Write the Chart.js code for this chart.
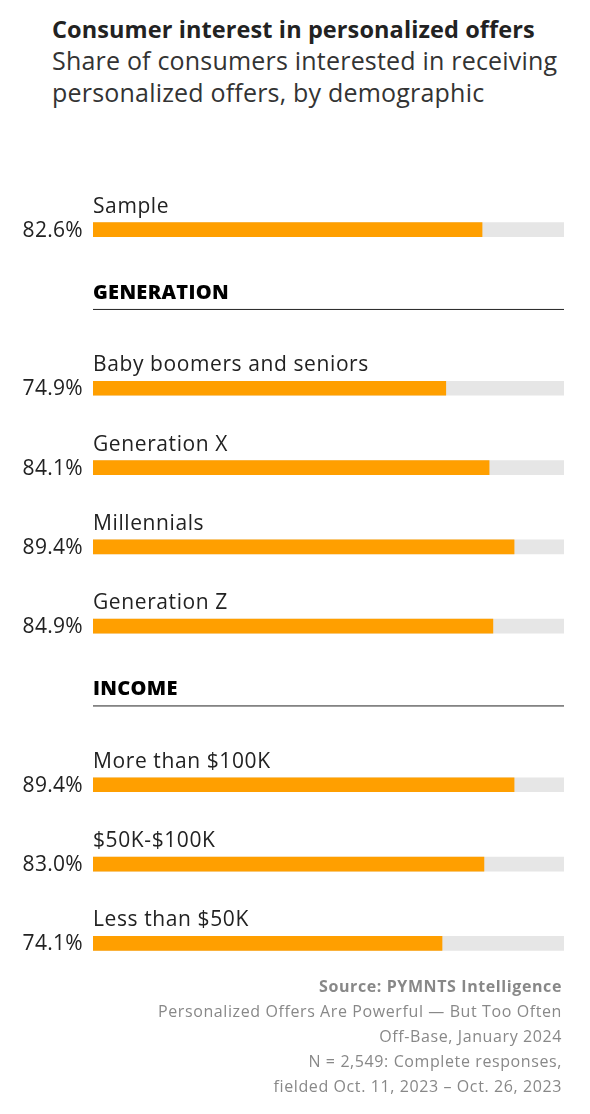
<!DOCTYPE html>
<html>
<head>
<meta charset="utf-8">
<script src="https://cdn.jsdelivr.net/npm/chart.js@4"></script>
<style>
  body { margin: 0; background: #fff; font-family: "Open Sans", sans-serif; }
  #wrap { position: relative; width: 590px; height: 1114px; }
  canvas { position: absolute; left: 0; top: 0; }
  .title { position: absolute; left: 52px; top: 13px; font-size: 23.5px; font-weight: 700; color: #222; letter-spacing: 0.1px; }
  .sub { position: absolute; left: 52px; top: 44px; font-size: 25px; line-height: 32px; color: #333; width: 530px; letter-spacing: 0.2px; }
  .src { position: absolute; right: 28px; top: 974px; text-align: right; font-size: 16px; line-height: 25px; color: #888; letter-spacing: 0.6px; }
</style>
</head>
<body>
<div id="wrap">
  <div class="title">Consumer interest in personalized offers</div>
  <div class="sub">Share of consumers interested in receiving personalized offers, by demographic</div>
  <canvas id="chart" width="590" height="1114"></canvas>
  <div class="src"><b>Source: PYMNTS Intelligence</b><br>Personalized Offers Are Powerful — But Too Often<br>Off-Base, January 2024<br>N = 2,549: Complete responses,<br>fielded Oct. 11, 2023 – Oct. 26, 2023</div>
</div>
<script>
// rows, header rows have null values
const categories = ['Sample', 'GENERATION', 'Baby boomers and seniors', 'Generation X', 'Millennials', 'Generation Z',
    'INCOME', 'More than $100K', '$50K-$100K', 'Less than $50K'];
const headers = ['GENERATION', 'INCOME'];
const values = [82.6, null, 74.9, 84.1, 89.4, 84.9, null, 89.4, 83.0, 74.1];
const track = categories.map(c => headers.includes(c) ? null : 100);

const labelPlugin = {
    id: 'rowLabels',
    afterDatasetsDraw(chart) {
        const ctx = chart.ctx;
        const y = chart.scales.y;
        const left = chart.chartArea.left, right = chart.chartArea.right;
        ctx.save();
        categories.forEach((c, i) => {
            const cy = y.getPixelForValue(i);
            if (headers.includes(c)) {
                ctx.font = '800 20px "Open Sans"';
                ctx.letterSpacing = '0.3px';
                ctx.fillStyle = '#000';
                ctx.textAlign = 'left';
                ctx.textBaseline = 'alphabetic';
                ctx.fillText(c, left, cy - 10);
                ctx.strokeStyle = '#222';
                ctx.lineWidth = 1;
                ctx.beginPath();
                ctx.moveTo(left, cy + 0.5);
                ctx.lineTo(right, cy + 0.5);
                ctx.stroke();
            } else {
                ctx.font = '21px "Open Sans"';
                ctx.letterSpacing = '0.6px';
                ctx.fillStyle = '#222';
                ctx.textAlign = 'left';
                ctx.textBaseline = 'alphabetic';
                ctx.fillText(c, left, cy - 17);
                ctx.textAlign = 'right';
                ctx.textBaseline = 'middle';
                ctx.letterSpacing = '0.3px';
                ctx.fillText(values[i].toFixed(1) + '%', left - 10, cy + 1);
            }
        });
        ctx.restore();
    }
};

new Chart(document.getElementById('chart'), {
    type: 'bar',
    data: {
        labels: categories,
        datasets: [
            { data: values, backgroundColor: '#FF9F00', barThickness: 14, order: 0 },
            { data: track, backgroundColor: '#E6E6E6', barThickness: 14, order: 1 }
        ]
    },
    options: {
        indexAxis: 'y',
        responsive: false,
        animation: false,
        datasets: { bar: { grouped: false } },
        layout: { padding: { left: 93, right: 26, top: 190, bottom: 131 } },
        plugins: { legend: { display: false }, tooltip: { enabled: false } },
        scales: {
            x: { min: 0, max: 100, display: false },
            y: { display: false }
        }
    },
    plugins: [labelPlugin]
});
</script>
</body>
</html>
